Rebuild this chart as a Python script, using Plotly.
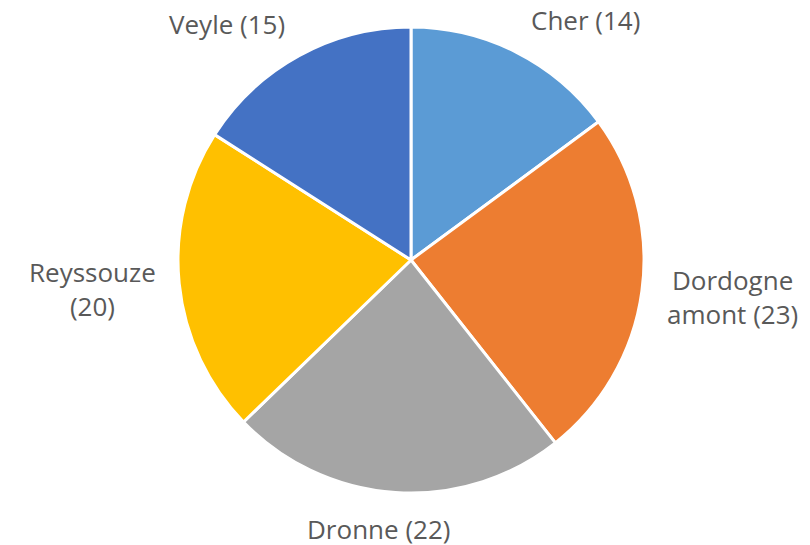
import math
import plotly.graph_objects as go

categories = ["Cher", "Dordogne amont", "Dronne", "Reyssouze", "Veyle"]
values = [14, 23, 22, 20, 15]
label_text = ["Cher (14)", "Dordogne<br>amont (23)", "Dronne (22)", "Reyssouze<br>(20)", "Veyle (15)"]
colors = ["#5B9BD5", "#ED7D31", "#A5A5A5", "#FFC000", "#4472C4"]

# page has an 8px body margin, so the figure is drawn 8px smaller
W, H = 802, 537
cx_px, cy_px, r_px = 403, 252, 233
dom_x = [(cx_px - r_px) / W, (cx_px + r_px) / W]
dom_y = [(H - cy_px - r_px) / H, (H - cy_px + r_px) / H]

fig = go.Figure(go.Pie(
    labels=categories,
    values=values,
    textinfo="none",
    sort=False,
    direction="clockwise",
    rotation=0,
    marker=dict(colors=colors, line=dict(color="white", width=3)),
    automargin=False,
    domain=dict(x=dom_x, y=dom_y),
    showlegend=False,
    hoverinfo="label+value",
))

# outside labels placed at each slice's mid-angle (derived from the values)
total = sum(values)
cum = 0
label_r = 251
for v, t in zip(values, label_text):
    mid = (cum + v / 2) / total * 2 * math.pi
    cum += v
    s, c = math.sin(mid), math.cos(mid)
    x = (cx_px + label_r * s) / W
    y = (H - cy_px + label_r * c) / H
    xa = "left" if s > 0.3 else ("right" if s < -0.3 else "center")
    ya = "bottom" if c > 0.3 else ("top" if c < -0.3 else "middle")
    xs = -16 if xa == "center" else (6 if xa == "left" else -4)
    ys = -3 if ya == "bottom" else (-4 if ya == "middle" else 0)
    fig.add_annotation(
        x=x, y=y, xref="paper", yref="paper", text=t, showarrow=False,
        xanchor=xa, yanchor=ya, align="center", borderpad=0,
        xshift=xs, yshift=ys,
        font=dict(family="Open Sans", size=26, color="#595959"),
    )

fig.update_layout(
    width=W, height=H,
    margin=dict(l=0, r=0, t=0, b=0),
    paper_bgcolor="white",
    plot_bgcolor="white",
)
fig.write_html("out.html")
